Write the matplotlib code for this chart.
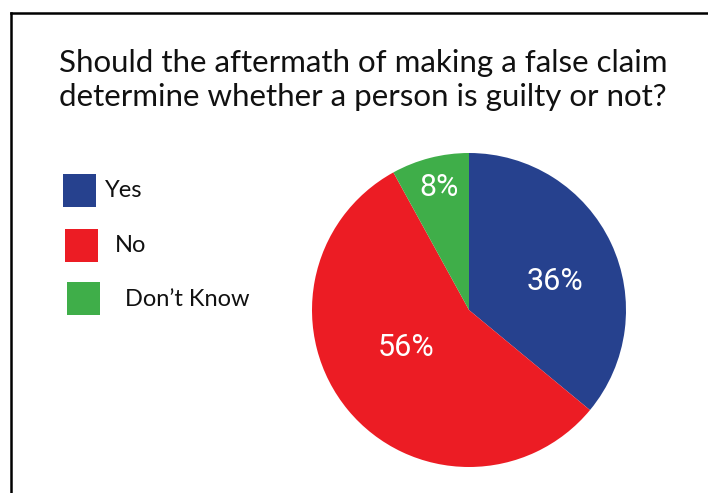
import matplotlib
matplotlib.use('Agg')
import matplotlib.pyplot as plt
from matplotlib.lines import Line2D
from matplotlib.patches import Rectangle

plt.rcParams['font.family'] = ['Lato', 'DejaVu Sans']

# survey answers
labels = ['Yes', 'No', 'Don\u2019t Know']
shares = [36, 56, 8]
colors = ['#26418e', '#ec1c24', '#3fae49']
title = 'Should the aftermath of making a false claim\ndetermine whether a person is guilty or not?'

W, H = 708, 493
fig = plt.figure(figsize=(W / 100, H / 100), dpi=100)
fig.patch.set_facecolor('white')

# black frame: top and left edges only
fig.add_artist(Line2D([11 / W, 1], [1 - 13 / H, 1 - 13 / H], color='black', lw=1.8))
fig.add_artist(Line2D([11 / W, 11 / W], [0, 1 - 13 / H], color='black', lw=1.8))

fig.text(363 / W, 1 - 80 / H, title, ha='center', va='center', fontsize=22.5,
         linespacing=1.25, color='#111111')

# pie, clockwise from 12 o'clock
cx, cy, r = 469, 493 - 310, 157
ax = fig.add_axes([(cx - r) / W, (cy - r) / H, 2 * r / W, 2 * r / H])
wedges, _, pcts = ax.pie(shares, colors=colors, startangle=90, counterclock=False,
                         radius=1, autopct=lambda p: f'{p:.0f}%',
                         wedgeprops=dict(linewidth=0),
                         textprops=dict(color='white', fontsize=22,
                                        family=['Roboto', 'DejaVu Sans']))
ax.set_xlim(-1, 1)
ax.set_ylim(-1, 1)
ax.set_aspect('equal')
ax.axis('off')

# label placement inside the slices
label_pos = [(0.55, 0.18), (-0.40, -0.24), (-0.19, 0.78)]
for t, (x, y) in zip(pcts, label_pos):
    t.set_position((x, y))
    t.set_ha('center')
    t.set_va('center')

# legend squares with captions
legend_rows = [(63, 174, 105), (65, 229, 115), (67, 282, 125)]
for (sx, sy, tx), lab, col in zip(legend_rows, labels, colors):
    fig.add_artist(Rectangle((sx / W, 1 - (sy + 33) / H), 33 / W, 33 / H,
                             transform=fig.transFigure, color=col, lw=0))
    fig.text(tx / W, 1 - (sy + 17) / H, lab, ha='left', va='center',
             fontsize=17, color='#111111')

fig.savefig('out.png', dpi=100)
